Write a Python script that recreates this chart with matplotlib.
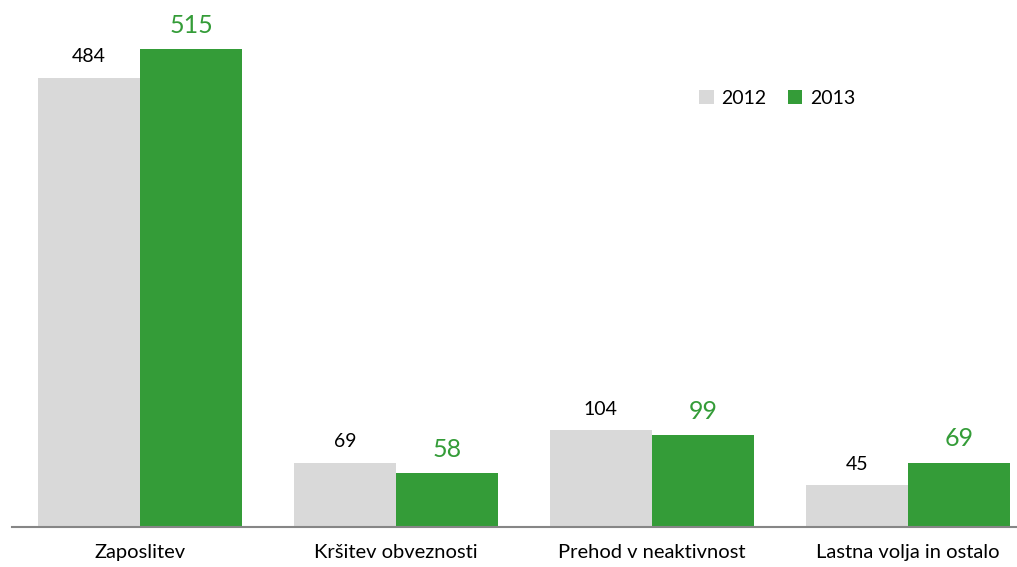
import matplotlib
matplotlib.use('Agg')
import matplotlib.pyplot as plt
import numpy as np

plt.rcParams['font.family'] = ['Lato', 'DejaVu Sans']

categories = ['Zaposlitev', 'Kršitev obveznosti', 'Prehod v neaktivnost', 'Lastna volja in ostalo']
years = ['2012', '2013']
v2012 = [484, 69, 104, 45]
v2013 = [515, 58, 99, 69]

grey = '#d9d9d9'
green = '#349c38'

fig = plt.figure(figsize=(10.17, 5.67), dpi=100)
ax = fig.add_axes([12/1017, 40/567, 1005/1017, 527/567])

x = np.arange(len(categories))
w = 0.4
b1 = ax.bar(x - w/2, v2012, w, color=grey, label=years[0])
b2 = ax.bar(x + w/2, v2013, w, color=green, label=years[1])

for r, v in zip(b1, v2012):
    ax.annotate(str(v), (r.get_x() + r.get_width()/2, v), xytext=(0, 9),
                textcoords='offset points', ha='center', va='bottom',
                fontsize=14, color='black')
for r, v in zip(b2, v2013):
    ax.annotate(str(v), (r.get_x() + r.get_width()/2, v), xytext=(0, 9),
                textcoords='offset points', ha='center', va='bottom',
                fontsize=18, color=green)

ax.set_xlim(-0.5, (1005/256) - 0.5)
ax.set_ylim(0, 527/0.928)
ax.set_xticks(x)
ax.set_xticklabels(categories, fontsize=14.5)
ax.tick_params(axis='x', length=0, pad=12)
ax.set_yticks([])
for s in ['top', 'right', 'left']:
    ax.spines[s].set_visible(False)
ax.spines['bottom'].set_color('#868686')
ax.spines['bottom'].set_linewidth(1.5)

ax.legend(loc='center left', bbox_to_anchor=(699/1017, 1 - 98/567), bbox_transform=fig.transFigure,
          ncol=2, frameon=False, fontsize=14, handlelength=0.75, handleheight=0.75,
          handletextpad=0.4, columnspacing=1.1, borderpad=0, borderaxespad=0)

fig.savefig('out.png', dpi=100)
